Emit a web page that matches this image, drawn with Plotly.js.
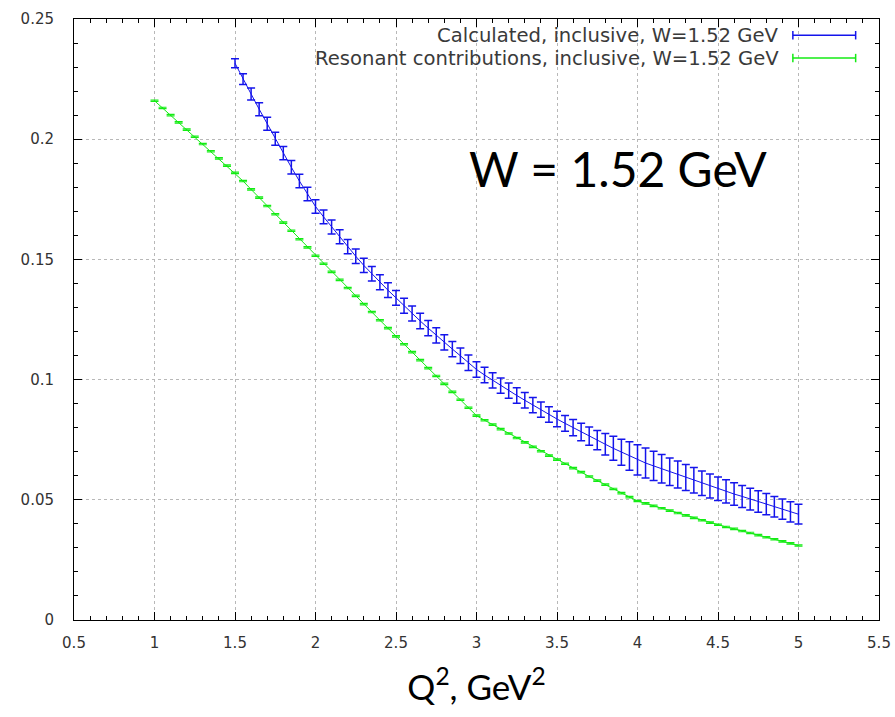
<!DOCTYPE html>
<html>
<head>
<meta charset="utf-8">
<script src="https://cdn.plot.ly/plotly-3.0.1.min.js"></script>
<style>html,body{margin:0;padding:0;background:#fff;}#chart{width:895px;height:717px;}</style>
</head>
<body>
<div id="chart"></div>
<script>
// Calculated, inclusive (blue) : Q^2 from 1.5 to 5.0 step 0.05
const q2Calc = [1.50,1.55,1.60,1.65,1.70,1.75,1.80,1.85,1.90,1.95,
  2.00,2.05,2.10,2.15,2.20,2.25,2.30,2.35,2.40,2.45,
  2.50,2.55,2.60,2.65,2.70,2.75,2.80,2.85,2.90,2.95,
  3.00,3.05,3.10,3.15,3.20,3.25,3.30,3.35,3.40,3.45,
  3.50,3.55,3.60,3.65,3.70,3.75,3.80,3.85,3.90,3.95,
  4.00,4.05,4.10,4.15,4.20,4.25,4.30,4.35,4.40,4.45,
  4.50,4.55,4.60,4.65,4.70,4.75,4.80,4.85,4.90,4.95,5.00];
const valCalc = [0.2316,0.2250,0.2188,0.2125,0.2064,0.2002,0.1942,0.1883,0.1826,0.1772,
  0.1720,0.1677,0.1635,0.1594,0.1553,0.1513,0.1475,0.1440,0.1405,0.1372,
  0.1340,0.1307,0.1275,0.1244,0.1214,0.1184,0.1155,0.1127,0.1099,0.1070,
  0.1042,0.1019,0.0997,0.0975,0.0954,0.0934,0.0914,0.0894,0.0875,0.0855,
  0.0836,0.0818,0.0800,0.0782,0.0765,0.0748,0.0731,0.0714,0.0698,0.0682,
  0.0666,0.0653,0.0641,0.0629,0.0617,0.0605,0.0593,0.0581,0.0569,0.0557,
  0.0546,0.0535,0.0524,0.0514,0.0503,0.0493,0.0482,0.0471,0.0461,0.0450,0.0440];
const errCalc = [0.0019,0.0022,0.0025,0.0027,0.0027,0.0027,0.0028,0.0028,0.0028,0.0028,
  0.0028,0.0029,0.0029,0.0029,0.0030,0.0030,0.0030,0.0030,0.0031,0.0031,
  0.0031,0.0031,0.0031,0.0032,0.0032,0.0032,0.0032,0.0032,0.0032,0.0032,
  0.0032,0.0032,0.0032,0.0032,0.0032,0.0032,0.0032,0.0032,0.0032,0.0032,
  0.0032,0.0033,0.0034,0.0036,0.0038,0.0040,0.0045,0.0050,0.0054,0.0059,
  0.0063,0.0062,0.0061,0.0059,0.0057,0.0056,0.0054,0.0053,0.0051,0.0050,
  0.0049,0.0048,0.0047,0.0046,0.0045,0.0045,0.0044,0.0043,0.0042,0.0042,0.0041];

// Resonant contributions, inclusive (green) : Q^2 from 1.0 to 5.0 step 0.05
const q2Res = [1.00,1.05,1.10,1.15,1.20,1.25,1.30,1.35,1.40,1.45,
  1.50,1.55,1.60,1.65,1.70,1.75,1.80,1.85,1.90,1.95,
  2.00,2.05,2.10,2.15,2.20,2.25,2.30,2.35,2.40,2.45,
  2.50,2.55,2.60,2.65,2.70,2.75,2.80,2.85,2.90,2.95,
  3.00,3.05,3.10,3.15,3.20,3.25,3.30,3.35,3.40,3.45,
  3.50,3.55,3.60,3.65,3.70,3.75,3.80,3.85,3.90,3.95,
  4.00,4.05,4.10,4.15,4.20,4.25,4.30,4.35,4.40,4.45,
  4.50,4.55,4.60,4.65,4.70,4.75,4.80,4.85,4.90,4.95,5.00];
const valRes = [0.2160,0.2130,0.2100,0.2070,0.2040,0.2010,0.1980,0.1950,0.1920,0.1890,
  0.1860,0.1826,0.1791,0.1757,0.1722,0.1688,0.1653,0.1619,0.1584,0.1550,
  0.1515,0.1482,0.1448,0.1415,0.1381,0.1348,0.1314,0.1281,0.1247,0.1214,
  0.1180,0.1147,0.1114,0.1081,0.1048,0.1015,0.0982,0.0949,0.0916,0.0883,
  0.0850,0.0831,0.0813,0.0794,0.0776,0.0757,0.0739,0.0720,0.0702,0.0684,
  0.0667,0.0650,0.0632,0.0615,0.0597,0.0580,0.0563,0.0545,0.0528,0.0511,
  0.0495,0.0485,0.0475,0.0465,0.0455,0.0445,0.0435,0.0425,0.0415,0.0405,
  0.0396,0.0387,0.0379,0.0370,0.0362,0.0353,0.0344,0.0336,0.0327,0.0319,0.0310];
const errResVal = 0.0003;

const seriesNames = ["Calculated, inclusive, W=1.52 GeV", "Resonant contributions, inclusive, W=1.52 GeV"];
const xTicks = [0.5,1,1.5,2,2.5,3,3.5,4,4.5,5,5.5];
const yTicks = [0,0.05,0.1,0.15,0.2,0.25];

const blue = 'rgb(20,20,235)';
const green = 'rgb(20,235,20)';

const traces = [
  {
    x: q2Calc, y: valCalc, type: 'scatter', mode: 'lines', name: seriesNames[0],
    line: {color: blue, width: 1},
    error_y: {type: 'data', array: errCalc, visible: true, color: blue, thickness: 1.5, width: 4}
  },
  {
    x: q2Res, y: valRes, type: 'scatter', mode: 'lines', name: seriesNames[1],
    line: {color: green, width: 1},
    error_y: {type: 'data', array: q2Res.map(() => errResVal), visible: true, color: green, thickness: 1.2, width: 4}
  }
];

const font = {family: 'DejaVu Sans, sans-serif', size: 15, color: '#333'};
const legFont = {family: 'DejaVu Sans, sans-serif', size: 19.6, color: '#3a3a3a'};

const legY = [0.973, 0.935];
const legX0 = 0.893, legX1 = 0.971;
const shapes = [];
const annotations = [];
[blue, green].forEach((c, i) => {
  shapes.push({type: 'line', xref: 'paper', yref: 'paper', x0: legX0, x1: legX1, y0: legY[i], y1: legY[i], line: {color: c, width: 1.5}});
  shapes.push({type: 'line', xref: 'paper', yref: 'paper', x0: legX0, x1: legX0, y0: legY[i] - 0.007, y1: legY[i] + 0.007, line: {color: c, width: 1.5}});
  shapes.push({type: 'line', xref: 'paper', yref: 'paper', x0: legX1, x1: legX1, y0: legY[i] - 0.007, y1: legY[i] + 0.007, line: {color: c, width: 1.5}});
  annotations.push({xref: 'paper', yref: 'paper', x: 0.878, y: legY[i], xanchor: 'right', yanchor: 'middle',
    text: seriesNames[i], showarrow: false, font: legFont});
});
annotations.push({xref: 'paper', yref: 'paper', x: 0.676, y: 0.752, xanchor: 'center', yanchor: 'middle',
  text: 'W = 1.52 GeV', showarrow: false, font: {family: 'Lato, sans-serif', size: 48, color: '#000'}});

const layout = {
  width: 895, height: 717,
  margin: {l: 74, r: 16, t: 19, b: 97},
  paper_bgcolor: '#fff', plot_bgcolor: '#fff',
  showlegend: false,
  font: font,
  xaxis: {
    range: [0.5, 5.5], tickvals: xTicks, ticktext: xTicks.map(String),
    ticks: 'inside', ticklen: 8, tickcolor: '#000', tickwidth: 1,
    minor: {dtick: 0.1, ticks: 'inside', ticklen: 4, tickcolor: '#000', showgrid: false},
    showline: true, linecolor: '#000', linewidth: 1, mirror: 'allticks',
    showgrid: true, gridcolor: '#b8b8b8', griddash: 'dot', gridwidth: 1,
    zeroline: false, ticklabelstandoff: 9,
    title: {text: 'Q<sup>2</sup>, GeV<sup>2</sup>', font: {family: 'Lato, sans-serif', size: 35, color: '#000'}, standoff: 24}
  },
  yaxis: {
    range: [0, 0.25], tickvals: yTicks, ticktext: ['0','0.05','0.1','0.15','0.2','0.25'],
    ticks: 'inside', ticklen: 8, tickcolor: '#000', tickwidth: 1,
    minor: {dtick: 0.01, ticks: 'inside', ticklen: 4, tickcolor: '#000', showgrid: false},
    showline: true, linecolor: '#000', linewidth: 1, mirror: 'allticks',
    showgrid: true, gridcolor: '#b8b8b8', griddash: 'dot', gridwidth: 1,
    zeroline: false, ticklabelstandoff: 16
  },
  shapes: shapes,
  annotations: annotations
};

Plotly.newPlot('chart', traces, layout, {displayModeBar: false, staticPlot: true});
</script>
</body>
</html>
